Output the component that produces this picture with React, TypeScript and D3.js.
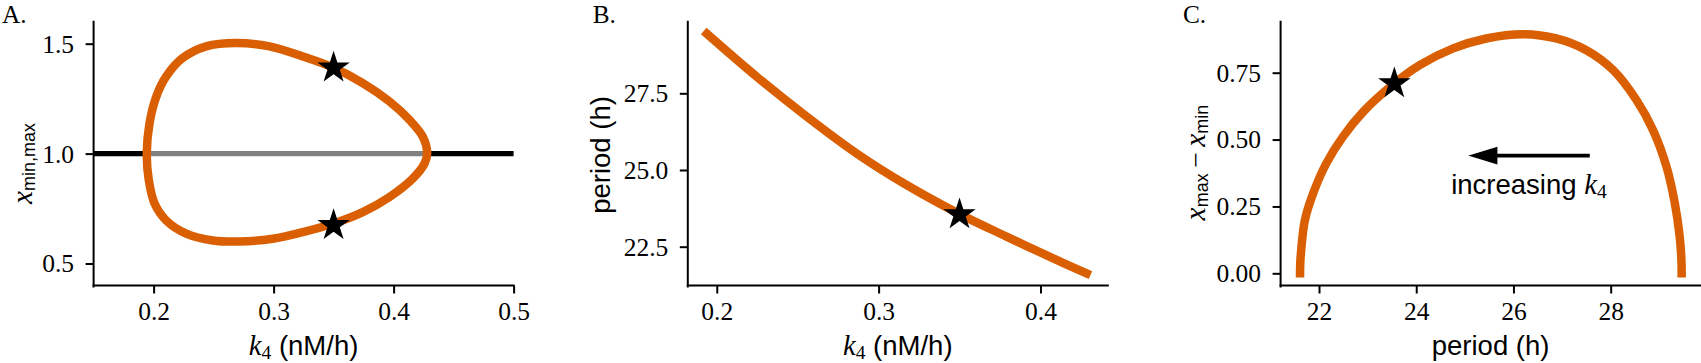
import React, { useEffect, useRef } from "react";
import * as d3 from "d3";

// ---------- data ----------
// Panel A: limit cycle extrema vs k4
const upperK = [0.1943, 0.1966, 0.2022, 0.2105, 0.2243, 0.2438, 0.2688, 0.2966, 0.3243, 0.3493, 0.3743, 0.3966, 0.4133, 0.4243, 0.428];
const upperX = [1.0, 1.138, 1.259, 1.351, 1.435, 1.488, 1.503, 1.488, 1.442, 1.392, 1.321, 1.237, 1.153, 1.077, 1.0];
const lowerK = [0.1943, 0.196, 0.2008, 0.2105, 0.2272, 0.2493, 0.2716, 0.2993, 0.3243, 0.3493, 0.3743, 0.3966, 0.416, 0.4258, 0.428];
const lowerX = [1.0, 0.879, 0.773, 0.696, 0.636, 0.605, 0.6, 0.613, 0.643, 0.681, 0.734, 0.803, 0.887, 0.955, 1.0];
const steadyK = [0.15, 0.1943, 0.428, 0.5];
const steadyX = 1.0;

// Panel B: period vs k4
const periodK = [0.1939, 0.2247, 0.2556, 0.2864, 0.3173, 0.3498, 0.379, 0.4099, 0.4285];
const periodH = [29.44, 28.04, 26.74, 25.54, 24.51, 23.57, 22.83, 22.07, 21.63];

// Panel C: amplitude vs period
const ampPeriod = [21.61, 21.615, 21.64, 21.71, 21.88, 22.15, 22.49, 22.91, 23.51, 24.07, 24.76, 25.44, 26.2, 26.88, 27.5, 28.05, 28.53, 28.87, 29.15, 29.32, 29.42, 29.455, 29.46];
const ampValue = [0.0, 0.04, 0.1, 0.199, 0.299, 0.411, 0.51, 0.604, 0.704, 0.778, 0.841, 0.878, 0.894, 0.878, 0.834, 0.76, 0.648, 0.536, 0.398, 0.262, 0.137, 0.05, 0.0];

// star (reference parameter)
const starK = 0.35;
const starXmax = 1.39;
const starXmin = 0.674;
const starPeriod = 23.55;
const starAmp = 0.71;

// arrow + annotation in panel C
const arrowFrom = [27.57, 0.44];
const arrowTo = [25.12, 0.44];
const annotPos = [24.72, 0.298];

// ticks
const ticksAx = [0.2, 0.3, 0.4, 0.5];
const ticksAy = [0.5, 1.0, 1.5];
const ticksBx = [0.2, 0.3, 0.4];
const ticksBy = [22.5, 25.0, 27.5];
const ticksCx = [22, 24, 26, 28];
const ticksCy = [0, 0.25, 0.5, 0.75];

const panelLetters = ["A.", "B.", "C."];

// ---------- style ----------
const ORANGE = "#d95f02";
const SERIF = "'Liberation Serif', 'DejaVu Serif', serif";
const SANS = "'Liberation Sans', Arial, sans-serif";
const W = 1701;
const H = 363;
const TOP = 21.7;
const BOTTOM = 285.5;
const AW = 420;
const X0 = [93.6, 687.8, 1280.6];
const TICK_FS = 25.5;
const LABEL_FS = 27.5;

export default function App() {
  const ref = useRef<SVGSVGElement | null>(null);

  useEffect(() => {
    const svg = d3.select(ref.current);
    svg.selectAll("*").remove();

    const makeAxes = (
      i: number,
      xs: d3.ScaleLinear<number, number>,
      ys: d3.ScaleLinear<number, number>,
      xt: number[],
      yt: number[],
      xf: string,
      yf: string
    ) => {
      const g = svg.append("g");
      const xa = d3.axisBottom(xs).tickValues(xt).tickFormat(d3.format(xf) as any).tickSize(8).tickSizeOuter(0);
      const ya = d3.axisLeft(ys).tickValues(yt).tickFormat(d3.format(yf) as any).tickSize(8).tickSizeOuter(0);
      const gx = g.append("g").attr("transform", `translate(0,${BOTTOM})`).call(xa);
      const gy = g.append("g").attr("transform", `translate(${X0[i]},0)`).call(ya);
      [gx, gy].forEach((a) => {
        a.select(".domain").remove();
        a.selectAll("line").attr("stroke", "#000").attr("stroke-width", 2);
        a.selectAll("text")
          .attr("font-family", SERIF)
          .attr("font-size", TICK_FS)
          .attr("fill", "#000");
        a.attr("font-family", null).attr("font-size", null);
      });
      gx.selectAll("text").attr("y", 34.5).attr("dy", 0);
      gy.selectAll("text").attr("x", -19.5).attr("dy", "0.33em");
      // spines
      g.append("line")
        .attr("x1", X0[i]).attr("x2", X0[i])
        .attr("y1", TOP).attr("y2", BOTTOM + 1)
        .attr("stroke", "#000").attr("stroke-width", 2).attr("stroke-linecap", "square");
      g.append("line")
        .attr("x1", X0[i]).attr("x2", X0[i] + AW)
        .attr("y1", BOTTOM).attr("y2", BOTTOM)
        .attr("stroke", "#000").attr("stroke-width", 2).attr("stroke-linecap", "square");
      return g;
    };

    const star = d3.symbol().type(d3.symbolStar).size(17 * 17 / 0.8908130915292852);
    const drawStar = (x: number, y: number) =>
      svg.append("path").attr("d", star()).attr("transform", `translate(${x},${y})`).attr("fill", "#000");

    // ---------- Panel A ----------
    const xA = d3.scaleLinear().domain([0.15, 0.5]).range([X0[0], X0[0] + AW]);
    const yA = d3.scaleLinear().domain([0.4, 1.6]).range([BOTTOM, TOP]);
    makeAxes(0, xA, yA, ticksAx, ticksAy, ".1f", ".1f");
    const hl = d3.line<number>().x((d) => xA(d)).y(() => yA(steadyX));
    svg.append("path").attr("d", hl([steadyK[0], steadyK[1]])).attr("stroke", "#000").attr("stroke-width", 5.3).attr("fill", "none");
    svg.append("path").attr("d", hl([steadyK[1], steadyK[2]])).attr("stroke", "#808080").attr("stroke-width", 5.3).attr("fill", "none");
    svg.append("path").attr("d", hl([steadyK[2], steadyK[3]])).attr("stroke", "#000").attr("stroke-width", 5.3).attr("fill", "none");
    const loopPts: [number, number][] = [];
    upperK.forEach((k, j) => loopPts.push([k, upperX[j]]));
    for (let j = lowerK.length - 2; j >= 1; j--) loopPts.push([lowerK[j], lowerX[j]]);
    const loopLine = d3.line<[number, number]>()
      .x((d) => xA(d[0])).y((d) => yA(d[1]))
      .curve(d3.curveCatmullRomClosed.alpha(0.5));
    svg.append("path").attr("d", loopLine(loopPts)).attr("stroke", ORANGE).attr("stroke-width", 8.5)
      .attr("fill", "none").attr("stroke-linejoin", "round");
    drawStar(xA(starK), yA(starXmax));
    drawStar(xA(starK), yA(starXmin));

    // ---------- Panel B ----------
    const xB = d3.scaleLinear().domain([0.1821, 0.4416]).range([X0[1], X0[1] + AW]);
    const yB = d3.scaleLinear().domain([21.235, 29.834]).range([BOTTOM, TOP]);
    makeAxes(1, xB, yB, ticksBx, ticksBy, ".1f", ".1f");
    const lineB = d3.line<number>().x((d) => xB(d)).y((_, j) => yB(periodH[j])).curve(d3.curveCatmullRom.alpha(0.5));
    svg.append("path").attr("d", lineB(periodK)).attr("stroke", ORANGE).attr("stroke-width", 8.5)
      .attr("fill", "none").attr("stroke-linecap", "square").attr("stroke-linejoin", "round");
    drawStar(xB(starK), yB(starPeriod));

    // ---------- Panel C ----------
    const xC = d3.scaleLinear().domain([21.21, 29.85]).range([X0[2], X0[2] + AW]);
    const yC = d3.scaleLinear().domain([-0.0456, 0.9407]).range([BOTTOM, TOP]);
    makeAxes(2, xC, yC, ticksCx, ticksCy, "d", ".2f");
    const lineC = d3.line<number>().x((d) => xC(d)).y((_, j) => yC(ampValue[j])).curve(d3.curveCatmullRom.alpha(0.5));
    svg.append("path").attr("d", lineC(ampPeriod)).attr("stroke", ORANGE).attr("stroke-width", 8.5)
      .attr("fill", "none").attr("stroke-linecap", "square").attr("stroke-linejoin", "round");
    drawStar(xC(starPeriod), yC(starAmp));

    // arrow
    const ax1 = xC(arrowFrom[0]), ay = yC(arrowFrom[1]);
    const ax2 = xC(arrowTo[0]);
    const headLen = 26, headHalf = 7.8;
    svg.append("line").attr("x1", ax1).attr("x2", ax2 + headLen - 2).attr("y1", ay).attr("y2", ay)
      .attr("stroke", "#000").attr("stroke-width", 3.8);
    svg.append("path")
      .attr("d", `M${ax2},${ay} L${ax2 + headLen},${ay - headHalf} L${ax2 + headLen},${ay + headHalf} Z`)
      .attr("fill", "#000").attr("stroke", "#000").attr("stroke-width", 1.5).attr("stroke-linejoin", "miter");
    const at = svg.append("text").attr("x", xC(annotPos[0])).attr("y", yC(annotPos[1]))
      .style("white-space", "pre").attr("fill", "#000");
    at.append("tspan").attr("font-family", SANS).attr("font-size", LABEL_FS).text("increasing ");
    at.append("tspan").attr("font-family", SERIF).attr("font-style", "italic").attr("font-size", LABEL_FS + 1).text("k");
    at.append("tspan").attr("font-family", SERIF).attr("font-size", 19.5).attr("dy", 4).text("4");

    // ---------- axis labels ----------
    const k4Label = (cx: number) => {
      const t = svg.append("text").attr("x", cx).attr("y", 355).attr("text-anchor", "middle")
        .style("white-space", "pre").attr("fill", "#000");
      t.append("tspan").attr("font-family", SERIF).attr("font-style", "italic").attr("font-size", LABEL_FS + 1).text("k");
      t.append("tspan").attr("font-family", SERIF).attr("font-size", 19.5).attr("dy", 4).text("4");
      t.append("tspan").attr("font-family", SANS).attr("font-size", LABEL_FS).attr("dy", -4).text(" (nM/h)");
    };
    k4Label(X0[0] + AW / 2);
    k4Label(X0[1] + AW / 2);
    svg.append("text").attr("x", X0[2] + AW / 2).attr("y", 355).attr("text-anchor", "middle")
      .attr("font-family", SANS).attr("font-size", LABEL_FS).attr("fill", "#000").text("period (h)");

    // y labels
    const yA_l = svg.append("text").attr("transform", "translate(32,163.5) rotate(-90)")
      .attr("text-anchor", "middle").attr("fill", "#000");
    yA_l.append("tspan").attr("font-family", SERIF).attr("font-style", "italic").attr("font-size", LABEL_FS + 2).text("x");
    yA_l.append("tspan").attr("font-family", SANS).attr("font-size", 18).attr("dy", 3).text("min,max");

    svg.append("text").attr("transform", "translate(610,155) rotate(-90)").attr("text-anchor", "middle")
      .attr("font-family", SANS).attr("font-size", LABEL_FS).attr("fill", "#000").text("period (h)");

    const yC_l = svg.append("text").attr("transform", "translate(1205,162.5) rotate(-90)")
      .attr("text-anchor", "middle").attr("fill", "#000").style("white-space", "pre");
    yC_l.append("tspan").attr("font-family", SERIF).attr("font-style", "italic").attr("font-size", LABEL_FS + 2).text("x");
    yC_l.append("tspan").attr("font-family", SANS).attr("font-size", 18).attr("dy", 3).text("max");
    yC_l.append("tspan").attr("font-family", SERIF).attr("font-size", LABEL_FS).attr("dy", -3).text("\u2009\u2212\u2009");
    yC_l.append("tspan").attr("font-family", SERIF).attr("font-style", "italic").attr("font-size", LABEL_FS + 2).text("x");
    yC_l.append("tspan").attr("font-family", SANS).attr("font-size", 18).attr("dy", 3).text("min");

    // panel letters
    const letterX = [2, 592.7, 1183];
    panelLetters.forEach((l, i) => {
      svg.append("text").attr("x", letterX[i]).attr("y", 22.6).attr("font-family", SERIF)
        .attr("font-size", 25.3).attr("fill", "#000").text(l);
    });
  }, []);

  return (
    <svg
      ref={ref}
      width={W}
      height={H}
      style={{ position: "absolute", left: 0, top: 0, background: "#fff" }}
    />
  );
}
